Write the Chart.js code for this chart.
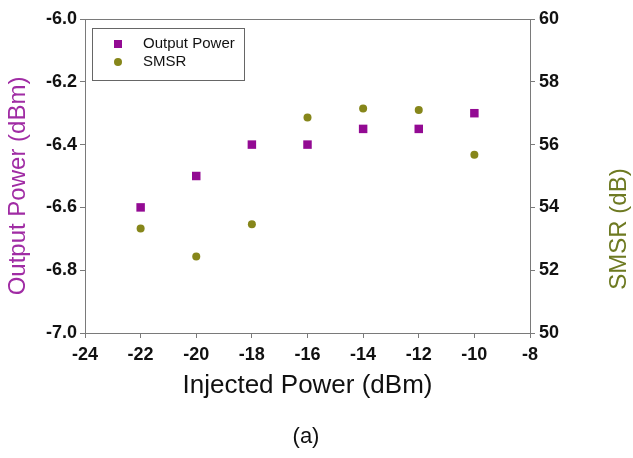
<!DOCTYPE html>
<html lang="en">
<head>
<meta charset="UTF-8">
<title>Output Power and SMSR vs Injected Power</title>
<script src="https://cdn.jsdelivr.net/npm/chart.js"></script>
<style>
  body { margin: 0; background: #fff; }
</style>
</head>
<body>
<canvas id="myChart" width="633" height="458"></canvas>
<script>
const injectedPower = [-22, -20, -18, -16, -14, -12, -10];
const outputPower = [-6.6, -6.5, -6.4, -6.4, -6.35, -6.35, -6.3];
const smsr = [53.33, 52.44, 53.46, 56.86, 57.15, 57.1, 55.68];

const purple = '#930a93';
const olive = '#86861a';
const axisGray = '#7a7a7a';
const fontFamily = "'Liberation Sans', Arial, sans-serif";
const tickFont = { family: fontFamily, size: 18, weight: 'bold' };

// frame top line, legend box, right axis title and the (a) caption
const extras = {
    id: 'extras',
    afterDraw: (chart) => {
        const ctx = chart.ctx;
        const area = chart.chartArea;
        ctx.save();

        ctx.strokeStyle = axisGray;
        ctx.lineWidth = 1;
        ctx.beginPath();
        ctx.moveTo(area.left, area.top + 0.5);
        ctx.lineTo(area.right, area.top + 0.5);
        ctx.stroke();

        // legend
        ctx.strokeStyle = '#666';
        ctx.strokeRect(92.5, 28.5, 152, 52);
        ctx.font = '15px ' + fontFamily;
        ctx.textBaseline = 'middle';
        chart.data.datasets.forEach((ds, i) => {
            const y = 44 + i * 18;
            ctx.fillStyle = ds.backgroundColor;
            if (ds.pointStyle === 'rect') {
                ctx.fillRect(114, y - 4, 8, 8);
            } else {
                ctx.beginPath();
                ctx.arc(118, y, 4, 0, Math.PI * 2);
                ctx.fill();
            }
            ctx.fillStyle = '#111';
            ctx.fillText(ds.label, 143, y);
        });

        // right title reads bottom to top
        ctx.font = '24px ' + fontFamily;
        ctx.fillStyle = '#6e7a22';
        ctx.textAlign = 'center';
        ctx.translate(619, 229);
        ctx.rotate(-Math.PI / 2);
        ctx.fillText('SMSR (dB)', 0, 0);
        ctx.setTransform(1, 0, 0, 1, 0, 0);

        ctx.font = '22px ' + fontFamily;
        ctx.fillStyle = '#111';
        ctx.fillText('(a)', 306, 437);
        ctx.restore();
    }
};

const config = {
    type: 'scatter',
    data: {
        datasets: [{
            label: 'Output Power',
            data: injectedPower.map((x, i) => ({ x: x, y: outputPower[i] })),
            backgroundColor: purple,
            borderColor: purple,
            pointStyle: 'rect',
            pointRadius: 6,
            borderWidth: 0,
            yAxisID: 'y'
        }, {
            label: 'SMSR',
            data: injectedPower.map((x, i) => ({ x: x, y: smsr[i] })),
            backgroundColor: olive,
            borderColor: olive,
            pointStyle: 'circle',
            pointRadius: 4,
            borderWidth: 0,
            yAxisID: 'y2'
        }]
    },
    options: {
        responsive: false,
        animation: false,
        layout: { padding: { top: 19, left: 0, right: 0, bottom: 0 } },
        plugins: {
            legend: { display: false },
            tooltip: { enabled: false }
        },
        scales: {
            x: {
                type: 'linear',
                min: -24,
                max: -8,
                afterFit: (scale) => { scale.height = 125; },
                ticks: {
                    stepSize: 2,
                    color: '#111',
                    padding: 6,
                    font: tickFont
                },
                grid: { drawOnChartArea: false, tickLength: 5, color: axisGray },
                border: { color: axisGray },
                title: {
                    display: true,
                    text: 'Injected Power (dBm)',
                    color: '#111',
                    font: { family: fontFamily, size: 26 },
                    padding: { top: 0, bottom: 57 }
                }
            },
            y: {
                position: 'left',
                min: -7,
                max: -6,
                afterFit: (scale) => { scale.width = 85; },
                ticks: {
                    stepSize: 0.2,
                    color: '#111',
                    padding: 3,
                    font: tickFont,
                    callback: (v) => v.toFixed(1)
                },
                grid: { drawOnChartArea: false, tickLength: 5, color: axisGray },
                border: { color: axisGray },
                title: {
                    display: true,
                    text: 'Output Power (dBm)   ',
                    color: '#a02ca4',
                    font: { family: fontFamily, size: 24 },
                    padding: { top: 4, bottom: 0 }
                }
            },
            y2: {
                position: 'right',
                min: 50,
                max: 60,
                afterFit: (scale) => { scale.width = 103; },
                ticks: {
                    stepSize: 2,
                    color: '#111',
                    padding: 4,
                    font: tickFont
                },
                grid: { drawOnChartArea: false, tickLength: 5, color: axisGray },
                border: { color: axisGray }
            }
        }
    },
    plugins: [extras]
};

var chart = new Chart(document.getElementById('myChart'), config);
</script>
</body>
</html>
